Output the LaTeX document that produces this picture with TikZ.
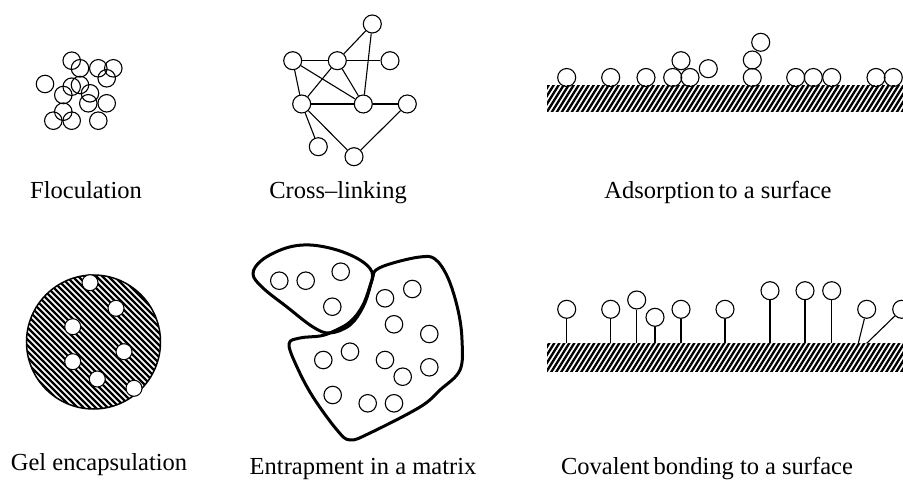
\documentclass[tikz,border=0pt]{standalone}
\usepackage{fontspec}
\setmainfont{Liberation Serif}
\begin{document}
\begin{tikzpicture}[x=1pt,y=-1pt,
  bub/.style={circle,draw,line width=1.1pt,inner sep=0pt,minimum size=17.5pt},
  gbub/.style={circle,draw,fill=white,line width=1pt,inner sep=0pt,minimum size=16pt},
  lbl/.style={font=\fontsize{24.5}{28}\selectfont,anchor=base,inner sep=0pt},
  link/.style={line width=1.1pt},
  blob/.style={line width=3pt,line join=round},
  hatch/.style={line width=2.3pt}]
\clip (0,0) rectangle (903,481);
\useasboundingbox (0,0) rectangle (903,481);

% ---------- Floculation ----------
\foreach \n/\x/\y in {f1/71.7/60.7, f2/80/68.3, f3/98.3/68.3, f4/113.3/68.3, f5/106.7/78.3,
  f6/45/84, f7/71.7/86.7, f8/80/85, f9/63.3/95, f10/90/93.3, f11/88.3/103.3,
  f12/106.7/103.3, f13/63.3/111.7, f14/53.3/120.7, f15/71.7/120.7, f16/98.3/120.7}
  \node[bub] (\n) at (\x,\y) {};

% ---------- Cross-linking ----------
\node[bub,minimum size=18pt] (A) at (372.3,24) {};
\node[bub,minimum size=18pt] (B) at (292.7,60.7) {};
\node[bub,minimum size=18pt] (C) at (337.3,60.7) {};
\node[bub,minimum size=18pt] (D) at (390,60.7) {};
\node[bub,minimum size=18pt] (E) at (301.7,104) {};
\node[bub,minimum size=18pt] (F) at (363.3,104) {};
\node[bub,minimum size=18pt] (G) at (407.3,104) {};
\node[bub,minimum size=18pt] (H) at (318.3,146.7) {};
\node[bub,minimum size=18pt] (I) at (354,156.7) {};
\draw[link] (A) -- (C);
\draw[link] (A) -- (F);
\draw[link] (B) -- (C);
\draw[link] (C) -- (D);
\draw[link] (B) -- (F);
\draw[link] (C) -- (E);
\draw[link] (C) -- (F);
\draw[link] (B) -- (E);
\draw[link] (E) -- (F);
\draw[link] (F) -- (G);
\draw[link] (E) -- (H);
\draw[link] (E) -- (I);
\draw[link] (G) -- (I);

% ---------- Adsorption ----------
\begin{scope}
  \clip (547,86) rectangle (903,112);
  \foreach \x in {515,520,...,910} \draw[hatch] (\x,115) -- ++(20,-32);
\end{scope}
\foreach \n/\x/\y in {a1/566.7/77.5, a2/610.7/77.5, a3/646/77.5, a4/672.7/77.5, a5/690/77.5,
  a6/681/60.7, a7/708.3/68.7, a8/752.3/77.5, a9/752.3/60, a10/760.7/42.3,
  a11/795.7/77.5, a12/813.3/77.5, a13/831.7/77.5, a14/876/77.5, a15/893.3/77.5}
  \node[bub,minimum size=18pt] (\n) at (\x,\y) {};

% ---------- Gel encapsulation ----------
\begin{scope}
  \clip (93.5,342) circle (67pt);
  \foreach \x in {-140,-134,...,170} \draw[line width=2.3pt] (\x,268) -- ++(150,150);
\end{scope}
\node[circle,draw,line width=1.5pt,inner sep=0pt,minimum size=134pt] (gel) at (93.5,342) {};
\foreach \n/\x/\y in {g1/90/282.7, g2/116/308.3, g3/72.7/326.7, g4/124/351.7,
  g5/72.7/361.7, g6/97.3/379, g7/134/388.3}
  \node[gbub] (\n) at (\x,\y) {};

% ---------- Entrapment ----------
\draw[blob] plot[smooth cycle,tension=0.6] coordinates {(253,274) (262,260) (286,248) (310,245)
  (337,250) (360,260) (372,272) (370,287) (363,307) (350,325) (330,333) (313,327) (287,307) (263,288)};
\draw[blob] plot[smooth cycle,tension=0.6] coordinates {(289,344) (300,338) (320,336) (332,332)
  (350,322) (363,305) (372,280) (376,270) (393,263) (420,257) (435,259) (448,278) (458,310)
  (462,340) (460,370) (440,390) (420,407) (370,433) (350,440) (337,430) (313,397) (297,367)};
\foreach \n/\x/\y in {e1/279.3/280.7, e2/305.7/280.7, e3/340.7/271.7, e4/332.3/306.7,
  e5/385/298.3, e6/412.3/289, e7/394/324.3, e8/429.3/334, e9/350/351.7, e10/323.3/360,
  e11/385/360, e12/429.3/367.3, e13/402.7/376.7, e14/332.7/395, e15/367.7/403.3, e16/394/403.3}
  \node[bub] (\n) at (\x,\y) {};

% ---------- Covalent bonding ----------
\begin{scope}
  \clip (547,343.3) rectangle (903,371);
  \foreach \x in {515,520,...,910} \draw[hatch] (\x,374) -- ++(20,-32);
\end{scope}
\foreach \n/\x/\y/\s in {k1/566.7/309.3/566.7, k2/610.7/309.3/610.7, k3/636.7/300/636.7,
  k4/655/317.3/655, k5/681/309.3/681, k6/725/309.3/725, k7/770/290.7/770,
  k8/805/290.7/805, k9/831.7/290.7/831.7, k10/866.7/309.3/858.3, k11/901.7/309.3/866.7}
{
  \node[bub,minimum size=18pt] (\n) at (\x,\y) {};
  \coordinate (s\n) at (\s,343.3);
  \draw[link] (\n) -- (s\n);
}

% ---------- Labels ----------
\node[lbl] (l1) at (86,199) {Floculation};
\node[lbl] (l2) at (338,199) {Cross--linking};
\node[lbl] (l3) at (718,199) {Adsorption\kern4pt to a surface};
\node[lbl] (l4) at (99,470) {Gel encapsulation};
\node[lbl] (l5) at (363,474.5) {Entrapment in a matrix};
\node[lbl] (l6) at (707,474) {Covalent\kern4pt bonding to a surface};
\end{tikzpicture}
\end{document}
